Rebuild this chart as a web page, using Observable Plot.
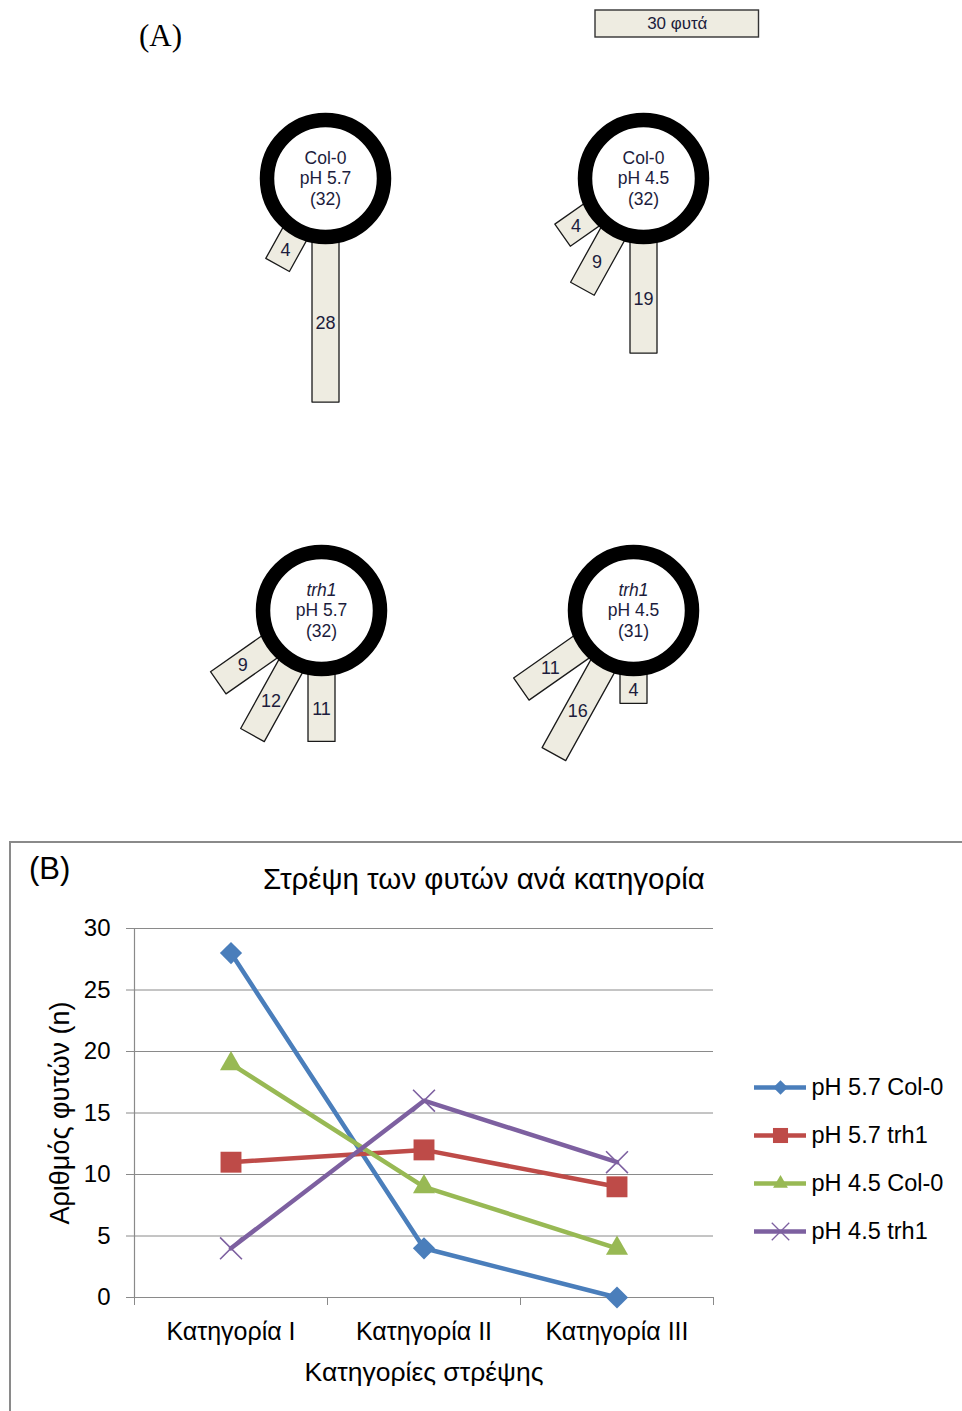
<!DOCTYPE html>
<html><head><meta charset="utf-8">
<script src="https://cdn.jsdelivr.net/npm/d3@7"></script>
<script src="https://cdn.jsdelivr.net/npm/@observablehq/plot@0.6"></script>
<style>
html,body{margin:0;padding:0;background:#fff;width:962px;height:1411px;overflow:hidden;position:relative;}
.abs{position:absolute;}
</style></head><body>
<script>
// ---------------- DATA ----------------
const categories = ["Κατηγορία I", "Κατηγορία II", "Κατηγορία III"];
const seriesNames = ["pH 5.7 Col-0", "pH 5.7 trh1", "pH 4.5 Col-0", "pH 4.5 trh1"];
const col0_pH57 = [28, 4, 0];
const trh1_pH57 = [11, 12, 9];
const col0_pH45 = [19, 9, 4];
const trh1_pH45 = [4, 16, 11];
const panelGenotypes = ["Col-0", "Col-0", "trh1", "trh1"];
const panelPH = ["pH 5.7", "pH 4.5", "pH 5.7", "pH 4.5"];
const scaleBarPlants = 30;
const scaleBarLabel = "30 φυτά";
const yTicks = [0, 5, 10, 15, 20, 25, 30];
const chartTitle = "Στρέψη των φυτών ανά κατηγορία";
const xLabel = "Κατηγορίες στρέψης";
const yLabel = "Αριθμός φυτών (n)";

// ---------------- STYLE / LAYOUT ----------------
const seriesValues = [col0_pH57, trh1_pH57, col0_pH45, trh1_pH45];
const panelCounts = [col0_pH57, col0_pH45, trh1_pH57, trh1_pH45];
const panelCenters = [[325, 178], [643, 178], [321, 610], [633, 610]];
const ppu = 5.45;            // px per plant
const R0 = 71;               // px where bar length starts counting
const ringR = 58.5, ringW = 14.5, ringOuter = 66;
const barWidthPx = 27;
const catAngles = [0, 29, 55];   // degrees from straight down, towards the left
const beige = "#EEECE1";
const textColor = "#1c1c3c";
const gray = "#8a8a8a";
const seriesStyle = [
  {color: "#4A7EBB", symbol: "diamond2", r: 10, lr: 6.5, filled: true},
  {color: "#BE4B48", symbol: "square", r: 11.8, lr: 8.5, filled: true},
  {color: "#98B954", symbol: "triangle", r: 8.2, lr: 5.5, filled: true},
  {color: "#7D60A0", symbol: "times", r: 10, lr: 8, filled: false}
];

function place(el, left, top) {
  const d = document.createElement("div");
  d.className = "abs";
  d.style.left = left + "px";
  d.style.top = top + "px";
  d.appendChild(el);
  document.body.appendChild(d);
  return d;
}
function htmlText(txt, left, top, css) {
  const d = document.createElement("div");
  d.className = "abs";
  d.style.left = left + "px";
  d.style.top = top + "px";
  d.style.whiteSpace = "nowrap";
  Object.assign(d.style, css);
  d.textContent = txt;
  document.body.appendChild(d);
  return d;
}

// ---------------- PART A ----------------
htmlText("(A)", 139, 18, {fontFamily: "Liberation Serif", fontSize: "31px", color: "#000"});

// scale bar
{
  const W = 172, mL = 2, mR = W - mL - scaleBarPlants * ppu;
  const sb = Plot.plot({
    width: W, height: 30, marginLeft: mL, marginRight: mR, marginTop: 1, marginBottom: 2,
    x: {domain: [0, scaleBarPlants], axis: null},
    style: {background: "transparent", overflow: "visible", fontFamily: "Liberation Sans"},
    marks: [
      Plot.barX([{n: scaleBarPlants}], {x: "n", fill: beige, stroke: "#333", strokeWidth: 1.4}),
      Plot.text([{n: scaleBarPlants / 2, t: scaleBarLabel}], {x: "n", text: "t", frameAnchor: "middle", fontSize: 17, fill: textColor})
    ]
  });
  place(sb, 593, 9);
}

panelCounts.forEach((counts, i) => {
  const W = 300, H = 330, cx = 150, cy = 80;
  const bars = [];
  counts.forEach((n, k) => { if (n > 0) bars.push({cat: k, n}); });
  bars.sort((a, b) => b.cat - a.cat);
  const poly = [], labels = [];
  bars.forEach(b => {
    const t = catAngles[b.cat] * Math.PI / 180;
    const ux = -Math.sin(t), uy = -Math.cos(t);
    const vx = Math.cos(t), vy = -Math.sin(t);
    const extra = b.cat > 0 ? 6 : 0; // angled bars reach a little further in the drawing
    const r0 = 45 / ppu, r1 = (R0 + extra + b.n * ppu) / ppu, hw = barWidthPx / 2 / ppu;
    const id = "b" + b.cat;
    poly.push(
      {id, x: r0 * ux + hw * vx, y: r0 * uy + hw * vy},
      {id, x: r1 * ux + hw * vx, y: r1 * uy + hw * vy},
      {id, x: r1 * ux - hw * vx, y: r1 * uy - hw * vy},
      {id, x: r0 * ux - hw * vx, y: r0 * uy - hw * vy}
    );
    const rm = (ringOuter / ppu + r1) / 2;
    labels.push({x: rm * ux, y: rm * uy, n: b.n});
  });
  const total = d3.sum(counts);
  const center = [{x: 0, y: 0}];
  const p = Plot.plot({
    width: W, height: H, margin: 0,
    x: {domain: [-cx / ppu, (W - cx) / ppu], axis: null},
    y: {domain: [-(H - cy) / ppu, cy / ppu], axis: null},
    style: {background: "transparent", overflow: "visible", fontFamily: "Liberation Sans"},
    marks: [
      Plot.line(poly, {x: "x", y: "y", z: "id", fill: beige, stroke: "#1a1a1a", strokeWidth: 1.3, curve: "linear-closed"}),
      Plot.dot(center, {x: "x", y: "y", r: ringR, fill: "white", stroke: "black", strokeWidth: ringW}),
      Plot.text(center, {x: "x", y: "y", text: () => panelGenotypes[i], dy: -20, fontSize: 17.5, fill: textColor,
        fontStyle: panelGenotypes[i] === "trh1" ? "italic" : "normal"}),
      Plot.text(center, {x: "x", y: "y", text: () => panelPH[i], dy: 0, fontSize: 17.5, fill: textColor}),
      Plot.text(center, {x: "x", y: "y", text: () => "(" + total + ")", dy: 21, fontSize: 17.5, fill: textColor}),
      Plot.text(labels, {x: "x", y: "y", text: "n", fontSize: 18, fill: textColor})
    ]
  });
  place(p, panelCenters[i][0] - cx, panelCenters[i][1] - cy);
});

// ---------------- PART B ----------------
const frame = document.createElement("div");
frame.className = "abs";
Object.assign(frame.style, {left: "9px", top: "841px", width: "1000px", height: "600px",
  borderTop: "2px solid " + gray, borderLeft: "2px solid " + gray});
document.body.appendChild(frame);

htmlText("(B)", 29, 851, {fontFamily: "Liberation Sans", fontSize: "31px", color: "#000"});
htmlText(chartTitle, 184, 862, {width: "600px", textAlign: "center", fontFamily: "Liberation Sans", fontSize: "29.5px", color: "#000"});

const rows = [];
seriesNames.forEach((s, si) => seriesValues[si].forEach((v, ci) => rows.push({series: s, si, cat: ci + 1, value: v})));

{
  const H = 569;
  const marks = [
    Plot.ruleY(yTicks.filter(d => d > 0), {stroke: gray, strokeWidth: 1}),
    Plot.ruleY([0], {stroke: gray, strokeWidth: 1.2}),
    Plot.ruleX([0.5], {stroke: gray, strokeWidth: 1.2}),
    Plot.axisY({ticks: yTicks, tickSize: 8, tickPadding: 16, fontSize: 24, stroke: gray, label: null}),
    Plot.axisX({ticks: [0.5, 1.5, 2.5, 3.5], tickSize: 8, tickFormat: () => "", stroke: gray, label: null}),
    Plot.axisX({ticks: [1, 2, 3], tickSize: 0, tickPadding: 25, tickFormat: d => categories[d - 1], fontSize: 25, label: null}),
    Plot.text([yLabel], {frameAnchor: "left", dx: -74, rotate: -90, textAnchor: "middle", fontSize: 27, fill: "#000"}),
    Plot.text([xLabel], {frameAnchor: "bottom", dy: 83, textAnchor: "middle", fontSize: 26.5, fill: "#000"})
  ];
  seriesNames.forEach((s, si) => {
    const st = seriesStyle[si];
    const data = rows.filter(d => d.si === si);
    marks.push(Plot.line(data, {x: "cat", y: "value", stroke: st.color, strokeWidth: 4.5}));
    marks.push(Plot.dot(data, st.filled
      ? {x: "cat", y: "value", symbol: st.symbol, r: st.r, fill: st.color, stroke: "none"}
      : {x: "cat", y: "value", symbol: st.symbol, r: st.r, fill: "none", stroke: st.color, strokeWidth: 1.6}));
  });
  const chart = Plot.plot({
    width: 962, height: H, marginTop: 86, marginBottom: H - 455, marginLeft: 134, marginRight: 249,
    x: {type: "linear", domain: [0.5, 3.5]},
    y: {domain: [0, 30]},
    style: {background: "transparent", overflow: "visible", fontFamily: "Liberation Sans", color: "#000"},
    marks
  });
  place(chart, 0, 842);
}

// legend
{
  const W = 218, H = 197;
  const lmarks = [
    Plot.ruleY(seriesNames, {y: d => d, x1: 0, x2: 1, stroke: (d) => seriesStyle[seriesNames.indexOf(d)].color, strokeWidth: 4.5})
  ];
  seriesNames.forEach((s, si) => {
    const st = seriesStyle[si];
    lmarks.push(Plot.dot([s], st.filled
      ? {x: () => 0.5, y: d => d, symbol: st.symbol, r: st.lr, fill: st.color, stroke: "none"}
      : {x: () => 0.5, y: d => d, symbol: st.symbol, r: st.lr, fill: "none", stroke: st.color, strokeWidth: 1.3}));
  });
  lmarks.push(Plot.text(seriesNames, {x: () => 1, y: d => d, text: d => d, textAnchor: "start", dx: 5, fontSize: 23.5, fill: "#000"}));
  const lg = Plot.plot({
    width: W, height: H, marginLeft: 10, marginRight: W - 62, marginTop: 26, marginBottom: 26,
    x: {domain: [0, 1], axis: null},
    y: {type: "point", domain: seriesNames, padding: 0, axis: null},
    color: {type: "identity"},
    style: {background: "transparent", overflow: "visible", fontFamily: "Liberation Sans"},
    marks: lmarks
  });
  place(lg, 744, 1060);
}
</script></body></html>
